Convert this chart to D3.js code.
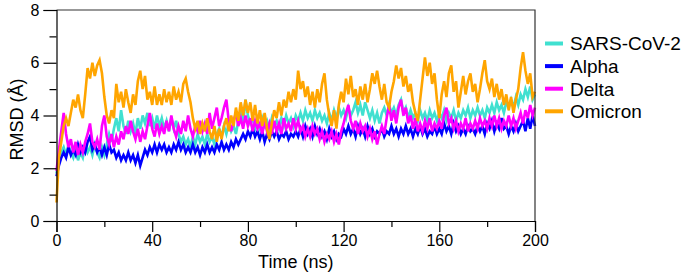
<!DOCTYPE html>
<html>
<head>
<meta charset="utf-8">
<script src="https://cdn.jsdelivr.net/npm/d3@7"></script>
<style>
  html, body { margin: 0; padding: 0; background: #fff; }
  text { font-family: "Liberation Sans", Arial, Helvetica, sans-serif; fill: #000; }
</style>
</head>
<body>
<svg id="chart"></svg>
<script>
const timeNs = d3.range(0, 201);

const sarsCov2 = [
  1.8, 2.3, 2.6, 2.8, 2.5, 2.9, 2.6, 2.4, 2.8, 2.3, 2.6, 2.4, 2.9, 2.6, 2.8, 2.5, 2.9, 2.6, 2.4, 2.8,
  2.5, 2.9, 3.3, 3.0, 3.5, 3.9, 3.4, 4.2, 3.6, 3.3, 3.8, 3.4, 3.7, 3.3, 3.9, 3.5, 4.0, 3.7, 4.1, 3.6,
  3.9, 3.5, 4.0, 3.6, 3.9, 3.5, 3.8, 3.4, 3.9, 3.5, 3.8, 3.3, 3.0, 3.2, 2.9, 3.1, 2.8, 3.2, 2.9, 3.3,
  3.0, 3.2, 2.9, 3.3, 3.0, 3.2, 2.9, 3.3, 3.5, 3.2, 3.6, 3.3, 3.7, 3.4, 3.6, 3.3, 3.8, 4.1, 3.7, 4.6,
  4.0, 3.7, 3.9, 3.5, 3.8, 3.5, 3.9, 3.6, 3.8, 3.5, 3.9, 3.6, 3.8, 3.5, 3.9, 3.6, 4.0, 3.7, 3.9, 3.6,
  4.0, 3.8, 4.1, 3.8, 4.2, 3.9, 4.1, 3.8, 4.2, 3.9, 4.1, 3.8, 4.0, 3.7, 4.1, 3.8, 4.2, 3.9, 4.3, 4.0,
  4.2, 3.9, 4.3, 4.0, 4.2, 4.5, 4.1, 4.4, 4.0, 4.5, 4.2, 3.9, 4.2, 3.8, 4.1, 3.7, 4.1, 4.3, 4.0, 4.4,
  4.1, 4.3, 4.0, 4.4, 4.6, 4.1, 4.3, 3.9, 4.2, 3.9, 4.1, 3.8, 4.2, 3.9, 4.1, 3.8, 4.2, 3.9, 4.1, 3.8,
  4.1, 3.9, 4.2, 3.8, 4.1, 3.9, 4.2, 3.8, 4.1, 3.9, 4.2, 4.0, 4.3, 3.9, 4.2, 4.0, 4.3, 4.0, 4.2, 3.9,
  4.3, 4.1, 4.4, 4.1, 4.5, 4.2, 4.4, 4.1, 4.5, 4.3, 4.6, 4.3, 4.7, 4.4, 4.8, 4.6, 5.0, 4.7, 5.1, 4.6,
  4.8
];

const alpha = [
  1.7, 2.1, 2.4, 2.6, 2.4, 2.8, 2.5, 2.7, 2.5, 2.9, 2.6, 2.8, 2.6, 3.0, 3.2, 2.7, 2.9, 2.6, 2.8, 2.5,
  2.8, 2.5, 2.9, 2.6, 2.7, 2.4, 2.6, 2.3, 2.5, 2.3, 2.6, 2.3, 2.5, 2.2, 2.5, 2.1, 2.4, 2.7, 2.5, 2.8,
  2.6, 2.9, 2.6, 2.9, 2.7, 2.9, 2.6, 2.8, 2.6, 2.9, 2.7, 3.0, 2.7, 2.9, 2.6, 2.8, 2.6, 2.9, 2.6, 2.8,
  2.5, 2.8, 2.6, 2.9, 2.6, 2.8, 2.6, 2.9, 2.7, 3.0, 2.7, 2.9, 2.7, 3.0, 2.8, 3.1, 2.9, 3.1, 3.3, 3.1,
  3.4, 3.2, 3.5, 3.2, 3.4, 3.1, 3.4, 3.0, 3.3, 3.1, 3.4, 3.2, 3.4, 3.1, 3.3, 3.2, 3.4, 3.1, 3.3, 3.2,
  3.4, 3.2, 3.5, 3.2, 3.6, 3.3, 3.5, 3.2, 3.6, 3.3, 3.5, 3.2, 3.4, 3.1, 3.5, 3.2, 3.4, 3.1, 3.3, 3.2,
  3.5, 3.3, 3.6, 3.3, 3.5, 3.2, 3.6, 3.3, 3.5, 3.2, 3.6, 3.3, 3.5, 3.2, 3.4, 3.3, 3.5, 3.2, 3.4, 3.3,
  3.6, 3.3, 3.5, 3.2, 3.5, 3.3, 3.6, 3.3, 3.5, 3.2, 3.5, 3.3, 3.6, 3.3, 3.5, 3.2, 3.4, 3.3, 3.6, 3.3,
  3.5, 3.3, 3.7, 3.4, 3.6, 3.3, 3.7, 3.4, 3.6, 3.3, 3.5, 3.3, 3.6, 3.4, 3.5, 3.3, 3.6, 3.4, 3.6, 3.3,
  3.7, 3.5, 3.8, 3.4, 3.7, 3.5, 3.9, 3.5, 3.6, 3.3, 3.6, 3.4, 3.7, 3.4, 3.6, 3.8, 3.4, 3.9, 3.5, 4.0,
  3.6
];

const delta = [
  1.9, 2.7, 3.4, 4.1, 3.3, 2.8, 3.1, 2.6, 3.0, 2.5, 2.9, 2.6, 3.0, 3.3, 3.7, 3.0, 2.8, 3.1, 2.7, 3.6,
  4.0, 3.2, 2.9, 3.3, 2.8, 3.2, 2.9, 3.4, 3.1, 3.6, 3.3, 3.8, 3.4, 3.1, 3.5, 3.0, 3.4, 3.1, 3.6, 4.1,
  3.5, 3.2, 3.7, 3.3, 3.6, 3.3, 3.8, 3.4, 4.0, 3.5, 3.2, 3.6, 3.3, 3.8, 3.4, 4.0, 3.5, 3.2, 3.6, 3.4,
  3.8, 3.4, 3.7, 3.3, 4.1, 3.5, 3.9, 4.3, 3.6, 3.9, 4.3, 4.6, 3.8, 3.4, 3.8, 4.1, 3.6, 3.9, 3.5, 4.0,
  3.6, 3.9, 3.4, 3.8, 3.5, 3.7, 3.3, 3.8, 3.4, 3.7, 3.3, 3.8, 3.4, 3.7, 3.3, 3.9, 3.5, 3.7, 3.4, 3.9,
  3.5, 3.8, 3.4, 3.6, 3.2, 3.5, 3.2, 3.6, 3.3, 3.5, 3.1, 3.4, 3.0, 3.3, 3.1, 3.4, 3.0, 3.3, 2.9, 3.4,
  3.7, 4.1, 4.4, 3.8, 3.5, 3.8, 3.3, 3.7, 3.4, 3.6, 3.2, 3.5, 3.1, 3.4, 2.9, 3.3, 3.6, 3.3, 3.9, 4.4,
  3.8, 4.2, 3.7, 4.3, 4.6, 4.0, 4.3, 3.7, 4.0, 3.5, 3.9, 3.4, 3.7, 3.4, 3.8, 3.5, 3.9, 3.4, 3.7, 3.5,
  3.8, 3.5, 4.0, 4.3, 3.7, 3.9, 3.5, 3.8, 3.4, 3.7, 3.5, 3.9, 3.4, 3.7, 3.5, 3.8, 3.5, 3.9, 3.6, 3.8,
  3.5, 3.9, 3.6, 4.0, 3.6, 3.9, 3.5, 3.8, 3.6, 4.0, 3.6, 3.9, 3.5, 3.8, 4.1, 3.7, 4.2, 3.9, 4.4, 4.0,
  4.3
];

const omicron = [
  0.7, 2.4, 3.0, 3.6, 3.9, 3.6, 4.1, 4.6, 4.3, 4.8, 4.2, 3.9, 4.8, 5.8, 5.4, 6.0, 5.5, 5.9, 6.1, 5.6,
  4.7, 4.0, 3.7, 4.2, 3.9, 5.2, 4.5, 4.9, 4.3, 5.0, 4.5, 4.1, 4.8, 4.4, 5.3, 5.7, 5.0, 5.5, 4.6, 4.9,
  4.4, 5.1, 4.4, 4.8, 4.4, 5.0, 4.5, 4.9, 4.4, 5.1, 4.6, 4.9, 4.5, 5.2, 5.4, 4.9, 4.5, 3.9, 3.5, 3.8,
  3.3, 3.7, 3.4, 3.9, 3.4, 3.1, 3.6, 3.0, 3.5, 3.1, 3.6, 3.9, 3.4, 4.0, 3.6, 4.3, 3.8, 4.5, 4.0, 4.6,
  4.1, 4.5, 3.8, 4.4, 3.7, 4.2, 3.6, 4.1, 3.5, 3.1, 3.7, 4.2, 3.9, 4.5, 4.0, 4.6, 4.3, 4.9, 4.5, 5.0,
  4.6, 5.7, 5.0, 5.3, 4.7, 5.1, 4.4, 4.9, 4.3, 5.0, 4.5, 5.2, 5.6, 4.6, 4.0, 3.6, 4.2, 3.5, 4.4, 4.9,
  4.5, 5.4, 4.8, 5.5, 4.7, 5.0, 4.4, 5.1, 4.6, 5.2, 4.5, 5.0, 5.6, 5.2, 5.7, 5.1, 4.6, 5.2, 4.5, 4.3,
  4.9, 5.3, 5.9, 5.4, 5.8, 5.1, 5.5, 4.9, 5.2, 4.5, 4.1, 3.8, 4.6, 5.4, 6.2, 5.5, 6.0, 5.2, 5.6, 4.6,
  3.9, 4.8, 5.3, 4.7, 5.6, 5.9, 4.9, 5.3, 4.3, 4.9, 5.5, 4.8, 5.3, 5.6, 4.9, 5.2, 4.5, 5.0, 5.6, 6.1,
  5.3, 5.0, 5.4, 4.7, 5.2, 4.6, 5.0, 4.4, 4.8, 4.2, 4.7, 4.1, 4.6, 5.0, 5.8, 6.4, 5.7, 5.2, 5.6, 4.7,
  4.9
];

const seriesNames = ['SARS-CoV-2', 'Alpha', 'Delta', 'Omicron'];
const seriesColors = ['#40e0d0', '#0000ff', '#ff00ff', '#ffa500'];
const seriesValues = [sarsCov2, alpha, delta, omicron];

const xMajorTicks = [0, 40, 80, 120, 160, 200];
const xMinorTicks = [20, 60, 100, 140, 180];
const yMajorTicks = [0, 2, 4, 6, 8];
const yMinorTicks = [1, 3, 5, 7];

const width = 685, height = 277;
const margin = { top: 10, left: 56.5, right: 150, bottom: 56 };

const svg = d3.select('#chart')
  .attr('width', width)
  .attr('height', height);

const x = d3.scaleLinear().domain([0, 200]).range([margin.left, width - margin.right]);
const y = d3.scaleLinear().domain([0, 8]).range([height - margin.bottom, margin.top]);

// traces first, frame on top
const line = d3.line()
  .x((d, i) => x(timeNs[i]))
  .y(d => y(d));

svg.append('g')
  .selectAll('path')
  .data(seriesValues)
  .join('path')
  .attr('fill', 'none')
  .attr('stroke', (d, i) => seriesColors[i])
  .attr('stroke-width', 2.6)
  .attr('d', line);

// top and right border
svg.append('path')
  .attr('fill', 'none')
  .attr('stroke', '#333')
  .attr('stroke-width', 1.2)
  .attr('d', `M${x(0)},${y(8)}H${x(200)}V${y(0)}`);

// x axis
const xAxis = svg.append('g')
  .attr('transform', `translate(0,${y(0)})`)
  .call(d3.axisBottom(x).tickValues(xMajorTicks).tickSize(11).tickPadding(3).tickFormat(d3.format('d')));
svg.append('g')
  .attr('transform', `translate(0,${y(0)})`)
  .call(d3.axisBottom(x).tickValues(xMinorTicks).tickSize(6).tickFormat(''))
  .select('.domain').remove();

// y axis
const yAxis = svg.append('g')
  .attr('transform', `translate(${x(0)},0)`)
  .call(d3.axisLeft(y).tickValues(yMajorTicks).tickSize(13).tickPadding(4).tickFormat(d3.format('d')));
svg.append('g')
  .attr('transform', `translate(${x(0)},0)`)
  .call(d3.axisLeft(y).tickValues(yMinorTicks).tickSize(7).tickFormat(''))
  .select('.domain').remove();

svg.selectAll('.domain').attr('stroke', '#000').attr('stroke-width', 1.2);
svg.selectAll('.tick line').attr('stroke', '#000').attr('stroke-width', 1.2);
xAxis.selectAll('.tick text').style('font-size', '16px').style('font-family', '"Liberation Sans", Arial, sans-serif');
yAxis.selectAll('.tick text').style('font-size', '16px').style('font-family', '"Liberation Sans", Arial, sans-serif');

// axis titles
svg.append('text')
  .attr('x', (x(0) + x(200)) / 2)
  .attr('y', 268)
  .attr('text-anchor', 'middle')
  .style('font-size', '18px')
  .text('Time (ns)');

svg.append('text')
  .attr('transform', `translate(23,${(y(0) + y(8)) / 2 + 4}) rotate(-90)`)
  .attr('text-anchor', 'middle')
  .style('font-size', '18px')
  .text('RMSD (Å)');

// legend
const legend = svg.append('g')
  .selectAll('g')
  .data(seriesNames)
  .join('g')
  .attr('transform', (d, i) => `translate(545,${43.5 + i * 22.6})`);

legend.append('line')
  .attr('x1', 0)
  .attr('x2', 18)
  .attr('stroke', (d, i) => seriesColors[i])
  .attr('stroke-width', 4);

legend.append('text')
  .attr('x', 25)
  .attr('dy', '0.36em')
  .style('font-size', '19px')
  .text(d => d);
</script>
</body>
</html>
